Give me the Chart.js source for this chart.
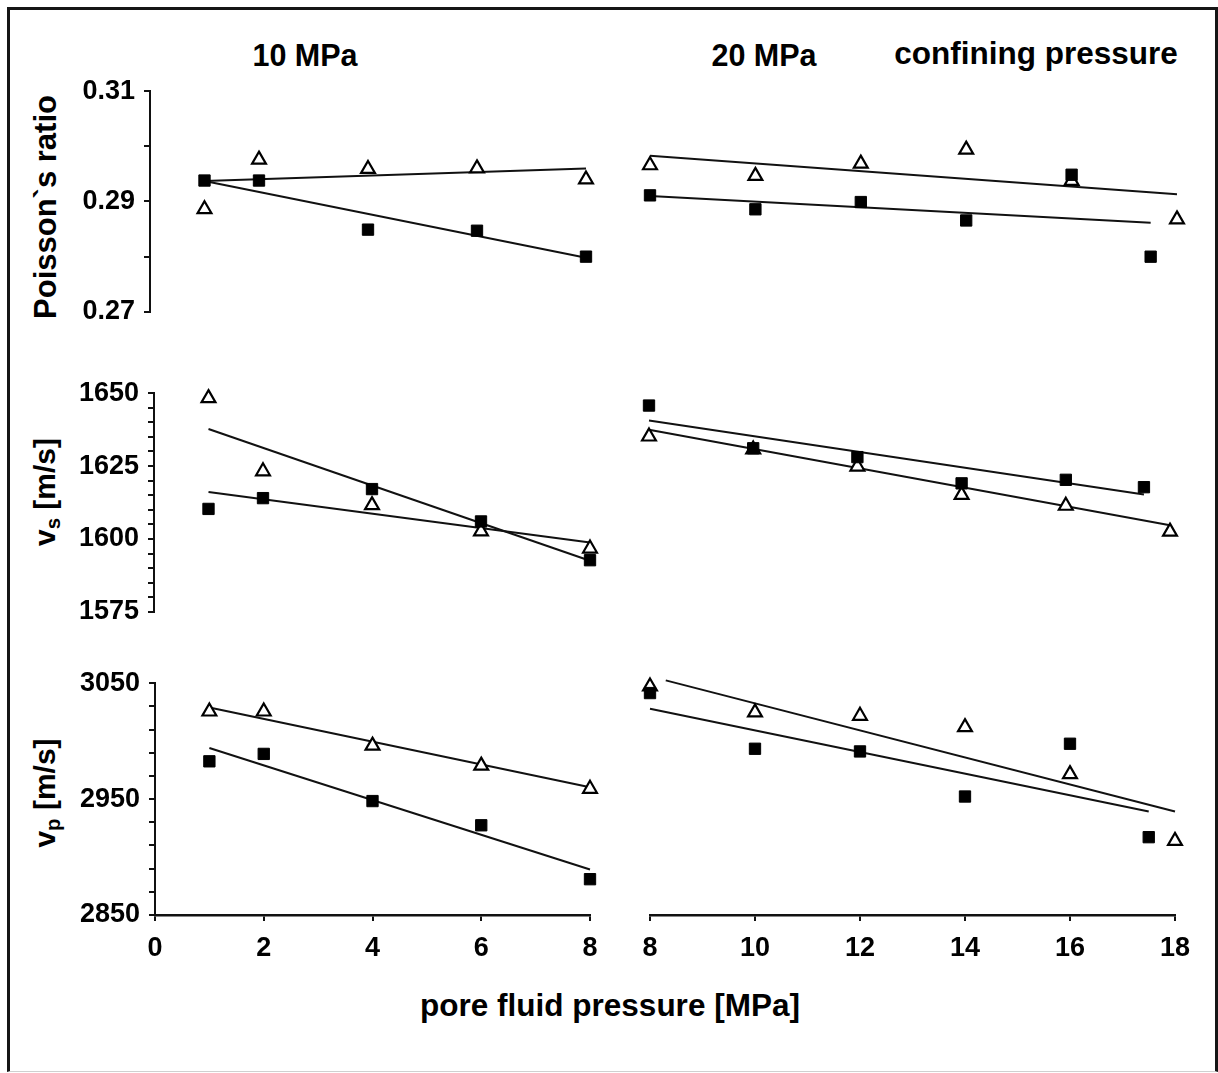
<!DOCTYPE html>
<html>
<head>
<meta charset="utf-8">
<script src="https://cdn.jsdelivr.net/npm/chart.js@4.4.1/dist/chart.umd.min.js"></script>
<style>
html,body{margin:0;padding:0;background:#fff;}
body{width:1218px;height:1073px;position:relative;overflow:hidden;font-family:'Liberation Sans',Arial,Helvetica,sans-serif;}
#frame{position:absolute;left:7px;top:7px;width:1205px;height:1061px;border:3px solid #161616;border-bottom:1px solid #d0d0d0;}
.t{position:absolute;font-weight:bold;line-height:1;white-space:nowrap;color:#000;}
.h{transform:translateX(-50%);}
.rot{transform:translate(-50%,-50%) rotate(-90deg);}
.t sub{font-size:68%;vertical-align:-0.25em;line-height:0;}
canvas{position:absolute;}
</style>
</head>
<body>
<div id="frame"></div>
<div class="t h" style="left:305px;top:40px;font-size:30.5px;">10 MPa</div>
<div class="t h" style="left:764px;top:40px;font-size:30.5px;">20 MPa</div>
<div class="t h" style="left:1036px;top:38px;font-size:31.5px;">confining pressure</div>
<div class="t h" style="left:610px;top:990px;font-size:31.5px;">pore fluid pressure [MPa]</div>
<div class="t rot" style="left:45px;top:207px;font-size:31px;">Poisson`s ratio</div>
<div class="t rot" style="left:45px;top:492px;font-size:30px;">v<sub>s</sub> [m/s]</div>
<div class="t rot" style="left:45px;top:793px;font-size:30px;">v<sub>p</sub> [m/s]</div>

<canvas id="c1"></canvas><canvas id="c2"></canvas>
<canvas id="c3"></canvas><canvas id="c4"></canvas>
<canvas id="c5"></canvas><canvas id="c6"></canvas>

<script>
// ---------------- data ----------------
// pore fluid pressure [MPa]
const pfLeft     = [1, 2, 4, 6, 8];
const pfRightTri = [8, 10, 12, 14, 16, 18];
const pfRightSq  = [8, 10, 12, 14, 16, 17.5];

// Poisson's ratio
const poissonLeftTri  = [0.2886, 0.2976, 0.2959, 0.2960, 0.2940];
const poissonLeftSq   = [0.2938, 0.2938, 0.2849, 0.2847, 0.2800];
const poissonRightTri = [0.2965, 0.2946, 0.2968, 0.2993, 0.2937, 0.2868];
const poissonRightSq  = [0.2911, 0.2886, 0.2899, 0.2866, 0.2948, 0.2801];

// vs [m/s]
const vsLeftTri  = [1648.3, 1623.2, 1611.6, 1602.6, 1596.7];
const vsLeftSq   = [1610.3, 1614.0, 1617.1, 1606.0, 1592.7];
const vsRightTri = [1634.9, 1630.5, 1624.7, 1615.1, 1611.4, 1602.6];
const vsRightSq  = [1645.4, 1630.9, 1627.9, 1619.0, 1620.2, 1617.7];

// vp [m/s]
const vpLeftTri  = [3025.6, 3025.6, 2996.1, 2978.9, 2958.9];
const vpLeftSq   = [2982.6, 2989.0, 2948.3, 2927.4, 2880.9];
const vpRightTri = [3046.2, 3023.9, 3021.0, 3011.3, 2970.9, 2913.6];
const vpRightSq  = [3040.5, 2992.7, 2990.4, 2951.7, 2997.0, 2916.8];

// trend lines: end points
const fitPoissonLeftTriX  = [1, 8];    const fitPoissonLeftTriY  = [0.2937, 0.2960];
const fitPoissonLeftSqX   = [1, 8];    const fitPoissonLeftSqY   = [0.2937, 0.2798];
const fitPoissonRightTriX = [8, 18];   const fitPoissonRightTriY = [0.2982, 0.2913];
const fitPoissonRightSqX  = [8, 17.5]; const fitPoissonRightSqY  = [0.2910, 0.2862];
const fitVsLeftTriX  = [1, 8];    const fitVsLeftTriY  = [1637.7, 1592.5];
const fitVsLeftSqX   = [1, 8];    const fitVsLeftSqY   = [1616.1, 1598.8];
const fitVsRightTriX = [8, 18];   const fitVsRightTriY = [1637.2, 1604.8];
const fitVsRightSqX  = [8, 17.5]; const fitVsRightSqY  = [1640.3, 1615.2];
const fitVpLeftTriX  = [1, 8];    const fitVpLeftTriY  = [3029.0, 2960.3];
const fitVpLeftSqX   = [1, 8];    const fitVpLeftSqY   = [2994.1, 2889.2];
const fitVpRightTriX = [8.3, 18]; const fitVpRightTriY = [3051.4, 2938.8];
const fitVpRightSqX  = [8, 17.5]; const fitVpRightSqY  = [3027.1, 2938.8];

// axis ranges and tick labels
const xRangeLeft  = [0, 8];   const xTicksLeft  = [0, 2, 4, 6, 8];
const xRangeRight = [8, 18];  const xTicksRight = [8, 10, 12, 14, 16, 18];
const poissonRange = [0.27, 0.31]; const poissonStep = 0.01;
const poissonTicks = [0.27, 0.29, 0.31]; const poissonTickLabels = ['0.27', '0.29', '0.31'];
const vsRange = [1575, 1650]; const vsStep = 5;
const vsTicks = [1575, 1600, 1625, 1650]; const vsTickLabels = ['1575', '1600', '1625', '1650'];
const vpRange = [2850, 3050]; const vpStep = 20;
const vpTicks = [2850, 2950, 3050]; const vpTickLabels = ['2850', '2950', '3050'];

// ---------------- drawing ----------------
Chart.defaults.font.family = "'Liberation Sans', Arial, Helvetica, sans-serif";
Chart.defaults.font.weight = 'bold';
Chart.defaults.color = '#000';
Chart.defaults.animation = false;

function pts(xs, ys) { return xs.map((x, i) => ({x: x, y: ys[i]})); }
function labeler(vals, labels) {
  return function (v) {
    for (let i = 0; i < vals.length; i++) if (Math.abs(v - vals[i]) < 1e-6) return labels[i];
    return '';
  };
}

const INK = '#111';

function panel(id, area, xCfg, yCfg, showX, showY, s) {
  const padT = 24, padR = 24, padB = 24, padL = 24, yW = 100, xH = 70;
  const cv = document.getElementById(id);
  const left = showY ? area.l - yW : area.l - padL;
  const top = area.t - padT;
  const w = (area.r - area.l) + (showY ? yW : padL) + padR;
  const h = (area.b - area.t) + padT + (showX ? xH : padB);
  cv.width = w; cv.height = h;
  cv.style.left = left + 'px'; cv.style.top = top + 'px';
  cv.style.width = w + 'px'; cv.style.height = h + 'px';

  const lineDs = (xs, ys) => ({
    data: pts(xs, ys), showLine: true, pointRadius: 0, borderColor: INK,
    borderWidth: 2, fill: false, tension: 0, clip: false
  });

  new Chart(cv, {
    type: 'scatter',
    data: {
      datasets: [
        {data: pts(s.sqX, s.sqY), pointStyle: 'rect', pointRadius: 8, pointBackgroundColor: '#000',
         pointBorderColor: '#000', pointBorderWidth: 1, showLine: false, clip: false},
        {data: pts(s.triX, s.triY), pointStyle: 'triangle', pointRadius: 8, pointBackgroundColor: '#fff',
         pointBorderColor: '#000', pointBorderWidth: 2.2, showLine: false, clip: false},
        lineDs(s.fitTriX, s.fitTriY),
        lineDs(s.fitSqX, s.fitSqY)
      ]
    },
    options: {
      responsive: false,
      maintainAspectRatio: false,
      animation: false,
      events: [],
      layout: {padding: {left: showY ? 0 : padL, top: padT, right: padR, bottom: showX ? 0 : padB}},
      plugins: {legend: {display: false}, tooltip: {enabled: false}},
      scales: {
        x: {
          type: 'linear', display: showX, min: xCfg.range[0], max: xCfg.range[1],
          afterFit: sc => { sc.height = showX ? xH : 0; },
          afterBuildTicks: sc => { sc.ticks = xCfg.ticks.map(v => ({value: v})); },
          ticks: {font: {size: 27, weight: 'bold'}, color: '#000', padding: 11, autoSkip: false,
                  maxRotation: 0, callback: labeler(xCfg.ticks, xCfg.ticks.map(String))},
          grid: {drawOnChartArea: false, drawTicks: true, tickLength: 6, color: INK, lineWidth: 2},
          border: {display: true, color: INK, width: 2.5}
        },
        y: {
          type: 'linear', display: showY, min: yCfg.range[0], max: yCfg.range[1],
          afterFit: sc => { sc.width = showY ? yW : 0; },
          ticks: {stepSize: yCfg.step, autoSkip: false, font: {size: 27, weight: 'bold'}, color: '#000',
                  padding: 9, callback: labeler(yCfg.ticks, yCfg.labels)},
          grid: {drawOnChartArea: false, drawTicks: true, tickLength: 6, color: INK, lineWidth: 2},
          border: {display: true, color: INK, width: 2}
        }
      }
    }
  });
}

const xL = {range: xRangeLeft, ticks: xTicksLeft};
const xR = {range: xRangeRight, ticks: xTicksRight};
const yPo = {range: poissonRange, step: poissonStep, ticks: poissonTicks, labels: poissonTickLabels};
const yVs = {range: vsRange, step: vsStep, ticks: vsTicks, labels: vsTickLabels};
const yVp = {range: vpRange, step: vpStep, ticks: vpTicks, labels: vpTickLabels};

panel('c1', {l: 150, r: 586, t: 90, b: 313}, xL, yPo, false, true, {
  triX: pfLeft, triY: poissonLeftTri, sqX: pfLeft, sqY: poissonLeftSq,
  fitTriX: fitPoissonLeftTriX, fitTriY: fitPoissonLeftTriY, fitSqX: fitPoissonLeftSqX, fitSqY: fitPoissonLeftSqY});
panel('c2', {l: 650, r: 1177, t: 90, b: 313}, xR, yPo, false, false, {
  triX: pfRightTri, triY: poissonRightTri, sqX: pfRightSq, sqY: poissonRightSq,
  fitTriX: fitPoissonRightTriX, fitTriY: fitPoissonRightTriY, fitSqX: fitPoissonRightSqX, fitSqY: fitPoissonRightSqY});
panel('c3', {l: 154, r: 590, t: 392, b: 613}, xL, yVs, false, true, {
  triX: pfLeft, triY: vsLeftTri, sqX: pfLeft, sqY: vsLeftSq,
  fitTriX: fitVsLeftTriX, fitTriY: fitVsLeftTriY, fitSqX: fitVsLeftSqX, fitSqY: fitVsLeftSqY});
panel('c4', {l: 649, r: 1170, t: 392, b: 613}, xR, yVs, false, false, {
  triX: pfRightTri, triY: vsRightTri, sqX: pfRightSq, sqY: vsRightSq,
  fitTriX: fitVsRightTriX, fitTriY: fitVsRightTriY, fitSqX: fitVsRightSqX, fitSqY: fitVsRightSqY});
panel('c5', {l: 155, r: 590, t: 682, b: 915}, xL, yVp, true, true, {
  triX: pfLeft, triY: vpLeftTri, sqX: pfLeft, sqY: vpLeftSq,
  fitTriX: fitVpLeftTriX, fitTriY: fitVpLeftTriY, fitSqX: fitVpLeftSqX, fitSqY: fitVpLeftSqY});
panel('c6', {l: 650, r: 1177, t: 682, b: 915}, xR, yVp, true, false, {
  triX: pfRightTri, triY: vpRightTri, sqX: pfRightSq, sqY: vpRightSq,
  fitTriX: fitVpRightTriX, fitTriY: fitVpRightTriY, fitSqX: fitVpRightSqX, fitSqY: fitVpRightSqY});
</script>
</body>
</html>
